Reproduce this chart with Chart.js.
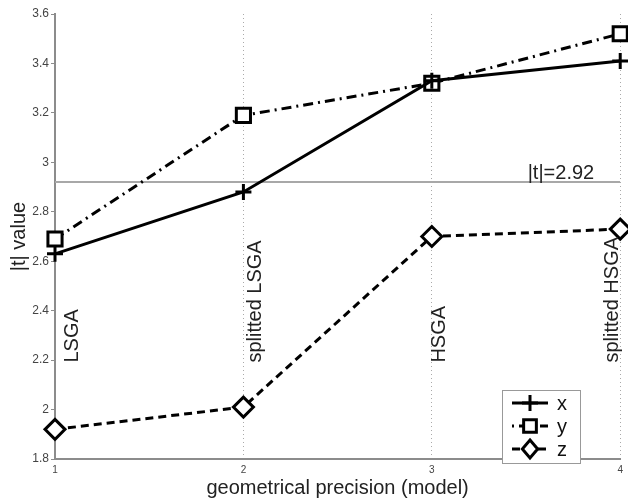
<!DOCTYPE html>
<html>
<head>
<meta charset="utf-8">
<script src="https://cdn.jsdelivr.net/npm/chart.js@4/dist/chart.umd.min.js"></script>
<style>
  html, body { margin: 0; padding: 0; background: #fff; }
  #wrap { width: 628px; height: 501px; }
</style>
</head>
<body>
<div id="wrap"><canvas id="chart-t" width="628" height="501"></canvas></div>
<script>
"use strict"

// data
var precision = [1, 2, 3, 4]
var models = ['LSGA', 'splitted LSGA', 'HSGA', 'splitted HSGA']
var tX = [2.63, 2.88, 3.33, 3.41]
var tY = [2.69, 3.19, 3.32, 3.52]
var tZ = [1.92, 2.01, 2.70, 2.73]
var threshold = 2.92

function pts(vals) {
    return precision.map(function (p, i) { return { x: p, y: vals[i] } })
}

var font = 'Arial, "Liberation Sans", sans-serif'

// little marker painter, used for the legend
function marker(ctx, style, x, y, r) {
    ctx.save()
    ctx.lineWidth = 3
    ctx.strokeStyle = '#000'
    ctx.fillStyle = '#fff'
    ctx.setLineDash([])
    ctx.beginPath()
    if (style === 'cross') {
        ctx.moveTo(x - r, y); ctx.lineTo(x + r, y)
        ctx.moveTo(x, y - r); ctx.lineTo(x, y + r)
        ctx.stroke()
    } else if (style === 'rect') {
        var s = r * Math.SQRT1_2
        ctx.rect(x - s, y - s, 2 * s, 2 * s)
        ctx.fill(); ctx.stroke()
    } else {
        ctx.moveTo(x, y - r); ctx.lineTo(x + r * 0.85, y); ctx.lineTo(x, y + r); ctx.lineTo(x - r * 0.85, y)
        ctx.closePath()
        ctx.fill(); ctx.stroke()
    }
    ctx.restore()
}

var notes = {
    id: 'notes',
    afterDraw: function (chart) {
        var ctx = chart.ctx
        var xs = chart.scales.x, ys = chart.scales.y
        ctx.save()
        ctx.fillStyle = '#222'
        ctx.font = '20px ' + font

        // model names, written upwards
        var shift = [17, 12, 8, -8]
        models.forEach(function (m, i) {
            var px = xs.getPixelForValue(precision[i]) + shift[i]
            var py = ys.getPixelForValue(2.19)
            ctx.save()
            ctx.translate(px, py)
            ctx.rotate(-Math.PI / 2)
            ctx.textAlign = 'left'
            ctx.textBaseline = 'middle'
            ctx.fillText(m, 0, 0)
            ctx.restore()
        })

        // threshold label
        ctx.textAlign = 'right'
        ctx.textBaseline = 'alphabetic'
        ctx.fillText('|t|=' + threshold, xs.right - 26, ys.getPixelForValue(threshold) - 3)

        // legend box
        var bx = 502, by = 390, bw = 78, bh = 73
        ctx.fillStyle = '#fff'
        ctx.fillRect(bx, by, bw, bh)
        ctx.strokeStyle = '#999'
        ctx.lineWidth = 1
        ctx.strokeRect(bx + 0.5, by + 0.5, bw, bh)

        var items = [
            { t: 'x', dash: [], p: 'cross', r: 8 },
            { t: 'y', dash: [2, 5, 10, 4], p: 'rect', r: 9 },
            { t: 'z', dash: [8, 5], p: 'diamond', r: 9 }
        ]
        items.forEach(function (it, i) {
            var ly = by + 13 + i * 23
            ctx.save()
            ctx.strokeStyle = '#000'
            ctx.lineWidth = 3
            ctx.setLineDash(it.dash)
            ctx.beginPath()
            ctx.moveTo(bx + 10, ly)
            ctx.lineTo(bx + 46, ly)
            ctx.stroke()
            ctx.restore()
            marker(ctx, it.p, bx + 28, ly, it.r)
            ctx.fillStyle = '#111'
            ctx.textAlign = 'left'
            ctx.textBaseline = 'middle'
            ctx.fillText(it.t, bx + 55, ly + 1)
        })
        ctx.restore()
    }
}

var ctx = document.getElementById('chart-t').getContext('2d')
var chartT = new Chart(ctx, {
    type: 'line',
    data: {
        datasets: [{
            label: 'x',
            data: pts(tX),
            borderColor: '#000',
            borderWidth: 3,
            pointStyle: 'cross',
            pointRadius: 8,
            pointBorderWidth: 3,
            pointBorderColor: '#000',
            pointBackgroundColor: '#fff',
            clip: false
        }, {
            label: 'y',
            data: pts(tY),
            borderColor: '#000',
            borderWidth: 3,
            borderDash: [10, 5, 2, 5],
            pointStyle: 'rect',
            pointRadius: 10,
            pointBorderWidth: 3,
            pointBorderColor: '#000',
            pointBackgroundColor: '#fff',
            clip: false
        }, {
            label: 'z',
            data: pts(tZ),
            borderColor: '#000',
            borderWidth: 3,
            borderDash: [8, 5],
            pointStyle: 'rectRot',
            pointRadius: 10,
            pointBorderWidth: 3,
            pointBorderColor: '#000',
            pointBackgroundColor: '#fff',
            clip: false
        }, {
            label: '|t|',
            data: [{ x: precision[0], y: threshold }, { x: precision[precision.length - 1], y: threshold }],
            borderColor: '#a8a8a8',
            borderWidth: 2,
            pointRadius: 0
        }]
    },
    options: {
        responsive: false,
        animation: false,
        events: [],
        layout: { autoPadding: false, padding: { top: 14, right: 7, left: 0, bottom: 0 } },
        plugins: {
            legend: { display: false },
            tooltip: { enabled: false }
        },
        scales: {
            x: {
                type: 'linear',
                min: 1,
                max: 4,
                afterFit: function (s) { s.height = 42 },
                ticks: {
                    stepSize: 1,
                    color: '#444',
                    font: { family: font, size: 10 },
                    padding: 5
                },
                grid: {
                    drawTicks: false,
                    color: function (c) { return c.tick && c.tick.value === 1 ? 'rgba(0,0,0,0)' : '#aaa' },
                    lineWidth: 1
                },
                border: { display: true, color: '#8c8c8c', width: 2, dash: [1, 3] },
                title: {
                    display: true,
                    text: 'geometrical precision (model)',
                    color: '#222',
                    font: { family: font, size: 20 },
                    padding: { top: 0, bottom: 1 }
                }
            },
            y: {
                min: 1.8,
                max: 3.6,
                afterFit: function (s) { s.width = 55 },
                ticks: {
                    stepSize: 0.2,
                    color: '#444',
                    font: { family: font, size: 12 },
                    padding: 2,
                    callback: function (v) { return String(Math.round(v * 10) / 10) }
                },
                grid: {
                    drawOnChartArea: false,
                    drawTicks: true,
                    tickLength: 4,
                    color: '#8c8c8c'
                },
                border: { display: true, color: '#8c8c8c', width: 2 },
                title: {
                    display: true,
                    text: '|t| value',
                    color: '#222',
                    font: { family: font, size: 20 },
                    padding: { top: 7, bottom: 0 }
                }
            }
        }
    },
    plugins: [notes]
})
</script>
</body>
</html>
